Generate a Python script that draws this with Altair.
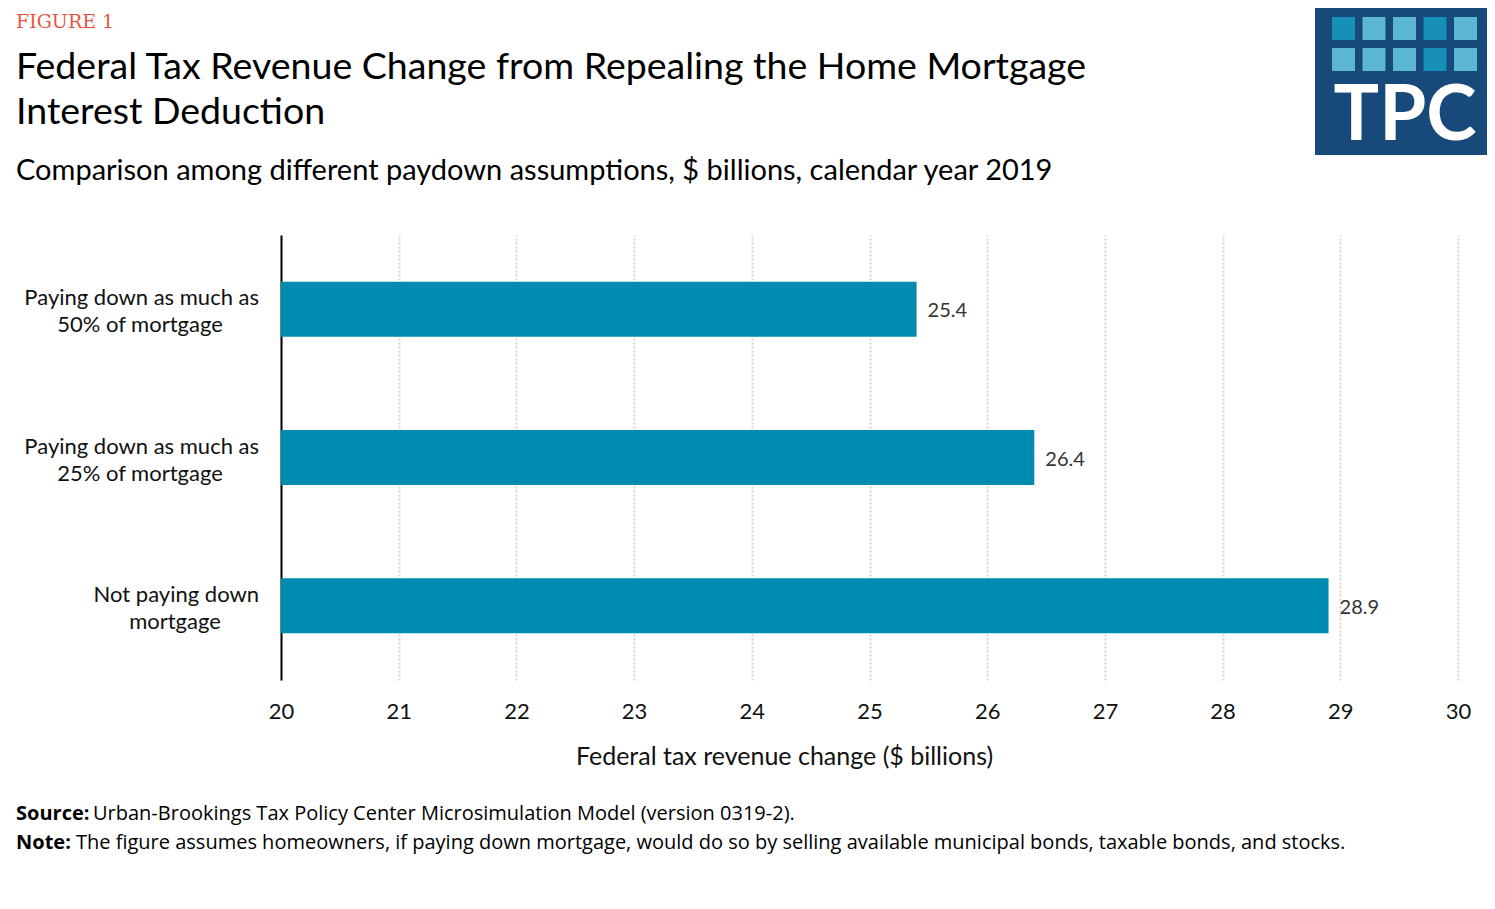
import altair as alt
import pandas as pd

# ---- data ----
line1 = ["Paying down as much as", "Paying down as much as", "Not paying down"]
line2 = ["50% of mortgage", "25% of mortgage", "mortgage"]
categories = ["50%", "25%", "none"]
values = [25.4, 26.4, 28.9]
x_ticks = [20, 21, 22, 23, 24, 25, 26, 27, 28, 29, 30]
x_min, x_max = 20, 30

df = pd.DataFrame({"cat": categories, "val": values, "l1": line1, "l2": line2})

W, H = 1177, 445
FONT = "Lato"

x_enc = alt.X(
    "val:Q",
    scale=alt.Scale(domain=[x_min, x_max], zero=False, nice=False),
    axis=alt.Axis(
        values=x_ticks, format="d",
        title="Federal tax revenue change ($ billions)",
        titleFont=FONT, titleFontSize=25, titleFontWeight="normal", titleColor="#111",
        titlePadding=22, titleX=503, titleAnchor="start", titleAlign="center",
        labelFont=FONT, labelFontSize=22, labelColor="#111", labelPadding=21,
        labelFlush=False,
        ticks=False, domain=False,
        grid=True, gridColor="#d4d4d4", gridDash=[2, 2], gridWidth=2,
    ),
)
y_enc = alt.Y(
    "cat:N",
    sort=categories,
    scale=alt.Scale(paddingInner=0.63, paddingOuter=0.316),
    axis=alt.Axis(
        title=None, labels=False,
        ticks=False, domain=True, domainColor="#000", domainWidth=2,
        grid=False,
    ),
)

bars = alt.Chart(df).mark_bar(color="#008cb0").encode(x=x_enc, x2=alt.datum(x_min), y=y_enc)
labels = alt.Chart(df).mark_text(
    align="left", baseline="middle", dx=11, dy=2, font=FONT, fontSize=20, color="#333"
).encode(x=alt.X("val:Q"), y=alt.Y("cat:N", sort=categories), text=alt.Text("val:Q", format=".1f"))

# category labels (two lines, second line centred under the first)
lab1 = alt.Chart(df).mark_text(
    align="right", baseline="alphabetic", dy=-4, font=FONT, fontSize=22, color="#111"
).encode(x=alt.value(-22), y=alt.Y("cat:N", sort=categories), text="l1:N")
lab2a = alt.Chart(df).transform_filter("datum.cat != 'none'").mark_text(
    align="center", baseline="alphabetic", dy=23, font=FONT, fontSize=22, color="#111"
).encode(x=alt.value(-141), y=alt.Y("cat:N", sort=categories), text="l2:N")
lab2b = alt.Chart(df).transform_filter("datum.cat == 'none'").mark_text(
    align="center", baseline="alphabetic", dy=23, font=FONT, fontSize=22, color="#111"
).encode(x=alt.value(-106), y=alt.Y("cat:N", sort=categories), text="l2:N")


def txt(s, x, y, size, color="#000", font=FONT, weight="normal", align="left"):
    return alt.Chart(pd.DataFrame({"t": [s]})).mark_text(
        align=align, baseline="alphabetic", font=font, fontSize=size,
        color=color, fontWeight=weight,
    ).encode(x=alt.value(x), y=alt.value(y), text="t:N")


OX, OY = 281, 235  # plot origin in page coords


def px(x):
    return x - OX


def py(y):
    return y - OY


layers = [bars, labels, lab1, lab2a, lab2b]
layers.append(txt("FIGURE 1", px(16), py(28), 19, color="#e8553f", font="DejaVu Serif"))
layers.append(txt("Federal Tax Revenue Change from Repealing the Home Mortgage", px(16), py(79), 37.5))
layers.append(txt("Interest Deduction", px(16), py(124), 37.5))
layers.append(txt("Comparison among different paydown assumptions, $ billions, calendar year 2019", px(16), py(180), 29))

# footnotes
layers.append(txt("Source:", px(16), py(820), 20, font="Open Sans", weight="bold"))
layers.append(txt("Urban-Brookings Tax Policy Center Microsimulation Model (version 0319-2).", px(93), py(820), 20, font="Open Sans"))
layers.append(txt("Note:", px(16), py(849), 20, font="Open Sans", weight="bold"))
layers.append(txt("The figure assumes homeowners, if paying down mortgage, would do so by selling available municipal bonds, taxable bonds, and stocks.", px(76), py(849), 20, font="Open Sans"))

# logo
logo_bg = alt.Chart(pd.DataFrame({"a": [0]})).mark_rect(color="#17497a").encode(
    x=alt.value(px(1315)), x2=alt.value(px(1487)), y=alt.value(py(8)), y2=alt.value(py(155))
)
layers.append(logo_bg)
pattern = [["d", "l", "l", "d", "l"], ["l", "l", "l", "d", "l"]]
sq = []
for r in range(2):
    for c in range(5):
        x0 = 1332 + c * 30.5
        y0 = 17 + r * 31
        sq.append({"x": px(x0), "x2": px(x0 + 23), "y": py(y0), "y2": py(y0 + 23),
                   "col": "#1790b8" if pattern[r][c] == "d" else "#5bb6d4"})
sq_df = pd.DataFrame(sq)
layers.append(
    alt.Chart(sq_df).mark_rect().encode(
        x=alt.X("x:Q", scale=None), x2="x2:Q", y=alt.Y("y:Q", scale=None), y2="y2:Q",
        color=alt.Color("col:N", scale=None),
    )
)
layers.append(txt("TPC", px(1405), py(140), 76, color="#ffffff", weight="bold", align="center"))

chart = alt.layer(*layers).properties(
    width=W, height=H,
    padding={"left": 273, "top": 227, "right": 29, "bottom": 221},
    autosize=alt.AutoSizeParams(type="none"),
).configure_view(stroke=None)

chart.save("out.html", embed_options={"renderer": "svg", "actions": False})
